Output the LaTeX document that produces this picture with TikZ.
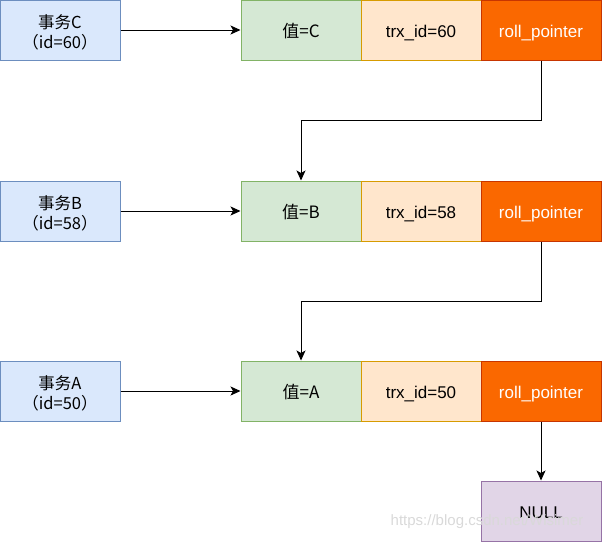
\documentclass[tikz,border=0pt]{standalone}
\usepackage{fontspec}
\setmainfont{Liberation Sans}
\newfontfamily\cjk[RawFeature=+halt]{Noto Sans CJK SC}
\usetikzlibrary{arrows.meta}

\definecolor{txfill}{HTML}{DAE8FC}
\definecolor{txline}{HTML}{6C8EBF}
\definecolor{valfill}{HTML}{D5E8D4}
\definecolor{valline}{HTML}{82B366}
\definecolor{trxfill}{HTML}{FFE6CC}
\definecolor{trxline}{HTML}{D79B00}
\definecolor{rollfill}{HTML}{FA6800}
\definecolor{rollline}{HTML}{C73500}
\definecolor{nullfill}{HTML}{E1D5E7}
\definecolor{nullline}{HTML}{9673A6}

\begin{document}
\begin{tikzpicture}[
        x=1pt, y=-1pt,
        ->,
        >={Stealth[length=10pt,width=9pt,inset=2.5pt]},
        line width=1pt,
        % boxes
        cell/.style={draw, line width=1pt, minimum width=120pt, minimum height=60pt,
            inner sep=0pt, align=center, text height=14pt, text depth=0pt,
            font=\fontsize{17}{20}\selectfont},
        txbox/.style={cell, fill=txfill, draw=txline, text height=37pt, text depth=1pt,
            font=\cjk\fontsize{16.5}{20}\selectfont},
        valbox/.style={cell, fill=valfill, draw=valline, font=\cjk\fontsize{17}{20}\selectfont},
        trxbox/.style={cell, fill=trxfill, draw=trxline},
        rollbox/.style={cell, fill=rollfill, draw=rollline, text=white},
        nullbox/.style={cell, fill=nullfill, draw=nullline},
    ]
    \useasboundingbox (0,0) rectangle (602,542);

    % transaction C
    \node [txbox] (txC) at (60,30) {事务C\\（id=60）};
    \node [valbox] (valC) at (301,30) {值=C};
    \node [trxbox] (trxC) at (421,30) {trx\_id=60};
    \node [rollbox] (rollC) at (541,30) {roll\_pointer};

    % transaction B
    \node [txbox] (txB) at (60,211) {事务B\\（id=58）};
    \node [valbox] (valB) at (301,211) {值=B};
    \node [trxbox] (trxB) at (421,211) {trx\_id=58};
    \node [rollbox] (rollB) at (541,211) {roll\_pointer};

    % transaction A
    \node [txbox] (txA) at (60,391) {事务A\\（id=50）};
    \node [valbox] (valA) at (301,391) {值=A};
    \node [trxbox] (trxA) at (421,391) {trx\_id=50};
    \node [rollbox] (rollA) at (541,391) {roll\_pointer};

    \node [nullbox] (null) at (541,511) {NULL};

    \draw (txC) -- (valC);
    \draw (txB) -- (valB);
    \draw (txA) -- (valA);

    \draw (rollC.south) -- ++(0,60) -| (valB.north);
    \draw (rollB.south) -- ++(0,60) -| (valA.north);
    \draw (rollA) -- (null);

    \node [text=gray!30, font=\fontsize{15}{17}\selectfont] (mark) at (487,522) {https://blog.csdn.net/Wisimer};
\end{tikzpicture}
\end{document}
